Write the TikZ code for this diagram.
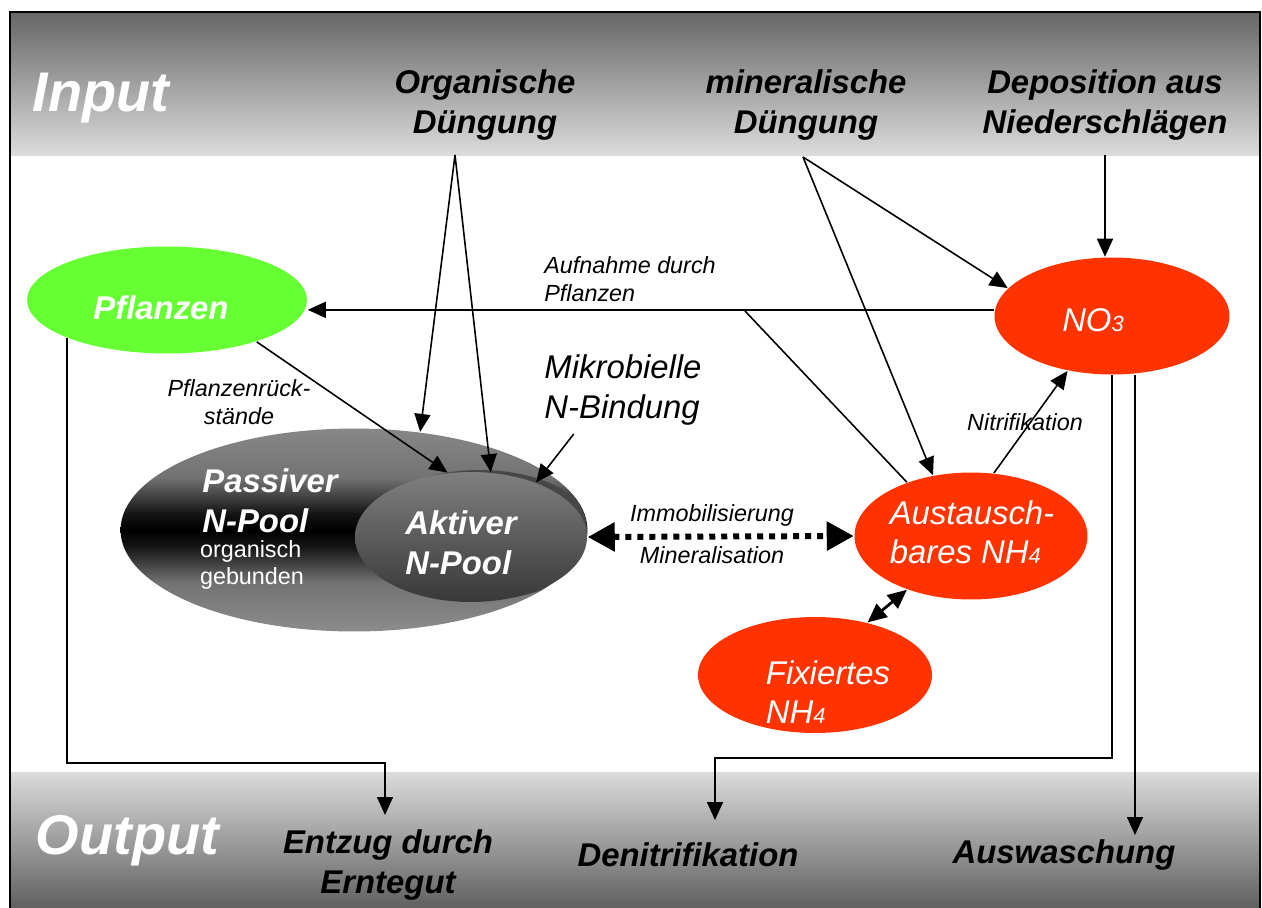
\documentclass[tikz,border=0pt]{standalone}
\usepackage{fontspec}
\setmainfont{Liberation Sans}
\usetikzlibrary{arrows.meta}
\usetikzlibrary{shapes.geometric}
\usetikzlibrary{calc}
\definecolor{nred}{RGB}{255,51,0}
\definecolor{ngreen}{RGB}{102,255,51}
\pgfdeclareverticalshading{tube}{100bp}{color(0bp)=(black!45); color(25bp)=(black!45); color(37bp)=(black!55); color(46bp)=(black!92); color(50bp)=(black); color(54bp)=(black!92); color(63bp)=(black!55); color(75bp)=(black!47); color(100bp)=(black!47)}
\newcommand{\klein}[1]{{\fontsize{12.5}{12.5}\selectfont #1}}

\begin{document}
\begin{tikzpicture}[x=0.02cm,y=-0.02cm,line width=0.9pt,
  arr/.style={-{Triangle[length=3.6mm,width=3.2mm]}},
  dblarr/.style={{Triangle[length=3.8mm,width=3.4mm]}-{Triangle[length=3.8mm,width=3.4mm]},line width=1.6pt},
  dotarr/.style={line width=3.4pt,dash pattern=on 1.2mm off 1.2mm,{Triangle[length=5.4mm,width=5.6mm]}-{Triangle[length=5.4mm,width=5.6mm]}},
  hdr/.style={font=\fontsize{18.7}{22.7}\selectfont\bfseries\itshape,align=center,inner sep=0pt},
  bandtxt/.style={font=\fontsize{31.8}{36}\selectfont\bfseries\itshape,text=white,anchor=west,inner sep=0pt},
  lbl/.style={font=\fontsize{13.3}{15.9}\selectfont\itshape,inner sep=0pt},
  pool/.style={ellipse,inner sep=0pt},
  wtxt/.style={text=white,font=\fontsize{18.7}{22.2}\selectfont\itshape,align=left,inner sep=0pt},
  wbold/.style={wtxt,font=\fontsize{18.7}{22.7}\selectfont\bfseries\itshape}]
  \useasboundingbox (0,0) rectangle (1262,907);
  % Baender
  \shade[top color=black!60,bottom color=black!14] (10,12) rectangle (1260,155);
  \shade[top color=black!14,bottom color=black!62] (10,772) rectangle (1260,907);
  \draw[line width=1.3pt] (10,12) rectangle (1260,912);
  \node[bandtxt](input) at (32,98) {Input};
  \node[bandtxt](output) at (35,841) {Output};
  \node[hdr](orgdue) at (485,105) {Organische\\Düngung};
  \node[hdr](mindue) at (806,105) {mineralische\\Düngung};
  \node[hdr](depo) at (1105,105) {Deposition aus\\Niederschlägen};
  \node[hdr](entzug) at (388,865) {Entzug durch\\Erntegut};
  \node[hdr](denitri) at (688,855) {Denitrifikation};
  \node[hdr](ausw) at (1064,855) {Auswaschung};
  % Pools
  \node[pool,fill=ngreen,minimum width=5.6cm,minimum height=2.14cm](pflanzen) at (167,300) {};
  \node[wbold](pflanzent) at (161,308) {Pflanzen};
  \node[pool,shading=tube,minimum width=9.34cm,minimum height=4.06cm](passiv) at (354,530) {};
  \begin{scope}
    \clip (passiv.center) ellipse [x radius=4.66cm,y radius=2.02cm];
    \node[pool,fill=black!72,minimum width=4.64cm,minimum height=2.6cm](aktivsch) at (480,535) {};
  \end{scope}
  \node[pool,top color=black!50,bottom color=black!78,minimum width=4.64cm,minimum height=2.6cm](aktiv) at (471,537) {};
  \node[wbold](passivt) at (270,501) {Passiver\\N-Pool};
  \node[text=white,font=\fontsize{13.3}{15.3}\selectfont,align=left,inner sep=0pt](orgt) at (252,565) {organisch\\gebunden};
  \node[wbold](aktivt) at (461,543) {Aktiver\\N-Pool};
  \node[pool,fill=nred,minimum width=4.7cm,minimum height=2.34cm](no3) at (1112,316) {};
  \node[wtxt](no3t) at (1093,320) {NO\klein{3}};
  \node[pool,fill=nred,minimum width=4.66cm,minimum height=2.54cm](austausch) at (971,536) {};
  \node[wtxt](austauscht) at (972,532) {Austausch-\\bares NH\klein{4}};
  \node[pool,fill=nred,minimum width=4.68cm,minimum height=2.32cm](fix) at (815,675) {};
  \node[wtxt](fixt) at (828,692) {Fixiertes\\NH\klein{4}};
  % Beschriftungen
  \node[lbl,align=left](aufnahme) at (630,279) {Aufnahme durch\\Pflanzen};
  \node[lbl,align=center](rueck) at (239,402) {Pflanzenrück-\\stände};
  \node[font=\fontsize{18.7}{22.7}\selectfont\itshape,align=left,inner sep=0pt](mikro) at (623,390) {Mikrobielle\\N-Bindung};
  \node[lbl](immo) at (712,515) {Immobilisierung};
  \node[lbl](mineral) at (712,555) {Mineralisation};
  \node[lbl](nitri) at (1025,422) {Nitrifikation};
  \coordinate (orgtop) at (455,155);
  \coordinate (mintop) at (803,157);
  \coordinate (depotop) at (1105,155);
  \coordinate (aufn) at (745,311);
  \coordinate (entztop) at (385,815);
  \coordinate (denitop) at (715,820);
  \coordinate (auswtop) at (1135,835);
  % Fluesse
  \draw[arr] (orgtop) -- (passiv.56);
  \draw[arr] (orgtop) -- (aktiv.73);
  \draw[arr] (pflanzen.-25) -- (aktiv.110);
  \draw[arr] ($(mikro.south west)+(30,8)$) -- (aktiv.40);
  \draw[arr] (mintop) -- (no3.165);
  \draw[arr] (mintop) -- (austausch.122);
  \draw[arr] (depotop) -- (depotop |- no3.north);
  \draw[arr] (no3.177) -- (no3.177 -| pflanzen.east);
  \draw (austausch.140) -- (aufn);
  \draw[arr] (austausch.70) -- (no3.231);
  \draw[dblarr] (austausch.220) -- (fix.45);
  \draw[dotarr] (aktiv.east) -- (austausch.west);
  \draw[arr] (pflanzen.201) -- (pflanzen.201 |- 0,763) -| (entztop);
  \draw[arr] (no3.south) -- (no3.south |- 0,758) -| (denitop);
  \draw[arr] (auswtop |- no3.south) -- (auswtop);
\end{tikzpicture}
\end{document}
